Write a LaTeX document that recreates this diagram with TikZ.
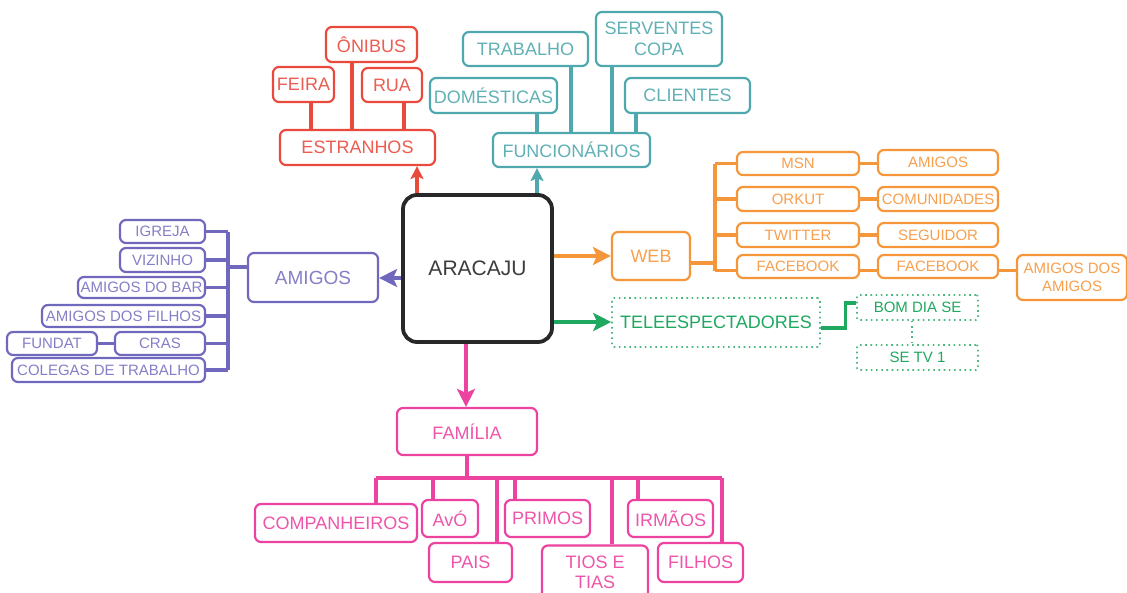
\documentclass[tikz,border=0pt]{standalone}
\usepackage{fontspec}
\setmainfont{Liberation Sans}
\usetikzlibrary{arrows.meta}

\definecolor{estrcol}{RGB}{234,74,60}
\definecolor{funccol}{RGB}{78,168,174}
\definecolor{amigcol}{RGB}{112,104,188}
\definecolor{webcol}{RGB}{246,150,58}
\definecolor{telecol}{RGB}{30,168,96}
\definecolor{famcol}{RGB}{236,66,160}
\definecolor{centcol}{RGB}{40,40,40}

\tikzset{
  box/.style={draw, fill=white, rounded corners=6, line width=2.2, inner sep=0, align=center},
  big/.style={font=\fontsize{18}{21}\selectfont},
  small/.style={font=\fontsize{15}{18}\selectfont},
  estrbox/.style={box, big, draw=estrcol, text=estrcol!90},
  funcbox/.style={box, big, draw=funccol, text=funccol!90},
  amigbox/.style={box, small, draw=amigcol, text=amigcol!85},
  webbox/.style={box, small, draw=webcol, text=webcol!90},
  telebox/.style={box, draw=telecol!80, text=telecol, line width=1.6, dash pattern=on 1.6pt off 3.6pt, rounded corners=2},
  fambox/.style={box, big, draw=famcol, text=famcol!90},
  link/.style={line width=3.2},
  arr/.style={line width=3.4, -{Stealth[length=18, width=18, inset=4]}},
  sarr/.style={line width=3.2, -{Stealth[length=13, width=13, inset=3]}}
}

\begin{document}
\begin{tikzpicture}[x=1pt,y=-1pt]
		%%%%% START %%%%%
		\useasboundingbox (0,0) rectangle (1127,592);
		
		% centre
		\node[box, draw=centcol, text=centcol!90, line width=3.8, rounded corners=14, minimum width=149, minimum height=147, font=\fontsize{21}{24}\selectfont] (arac) at (477.5,268.5) {ARACAJU};
		
		% estranhos
		\node[estrbox, minimum width=155, minimum height=35] (estr) at (357.5,147.5) {ESTRANHOS};
		\node[estrbox, minimum width=91, minimum height=35] (onibus) at (371.5,44.5) {ÔNIBUS};
		\node[estrbox, minimum width=61, minimum height=35] (feira) at (303.5,84.5) {FEIRA};
		\node[estrbox, minimum width=60, minimum height=34] (rua) at (392,85) {RUA};
		\draw[link, estrcol] ([xshift=7.5]feira.south) -- ([xshift=7.5]feira.south |- estr.north);
		\draw[link, estrcol] ([xshift=-19.5]onibus.south) -- ([xshift=-19.5]onibus.south |- estr.north);
		\draw[link, estrcol] ([xshift=12]rua.south) -- ([xshift=12]rua.south |- estr.north);
		\draw[sarr, estrcol] ([xshift=-60.5]arac.north) -- ([xshift=-60.5]arac.north |- estr.south);
		
		% funcionarios
		\node[funcbox, minimum width=157, minimum height=34] (func) at (571.5,150) {FUNCIONÁRIOS};
		\node[funcbox, minimum width=125, minimum height=34] (trab) at (525.5,49) {TRABALHO};
		\node[funcbox, minimum width=126, minimum height=54] (serv) at (659,39) {SERVENTES\\COPA};
		\node[funcbox, minimum width=127, minimum height=35] (dom) at (493.5,95.5) {DOMÉSTICAS};
		\node[funcbox, minimum width=125, minimum height=35] (cli) at (687.5,95.5) {CLIENTES};
		\draw[link, funccol] ([xshift=43.5]dom.south) -- ([xshift=43.5]dom.south |- func.north);
		\draw[link, funccol] ([xshift=45.5]trab.south) -- ([xshift=45.5]trab.south |- func.north);
		\draw[link, funccol] ([xshift=-47]serv.south) -- ([xshift=-47]serv.south |- func.north);
		\draw[link, funccol] ([xshift=-51.5]cli.south) -- ([xshift=-51.5]cli.south |- func.north);
		\draw[sarr, funccol] ([xshift=59.5]arac.north) -- ([xshift=59.5]arac.north |- func.south);
		
		% amigos
		\node[amigbox, minimum width=130, minimum height=49, font=\fontsize{19}{22}\selectfont] (amg) at (313,277.5) {AMIGOS};
		\node[amigbox, minimum width=85, minimum height=23] (igreja) at (162.5,231.5) {IGREJA};
		\node[amigbox, minimum width=85, minimum height=24] (viz) at (162.5,260) {VIZINHO};
		\node[amigbox, minimum width=127, minimum height=21] (bar) at (141.5,287.5) {AMIGOS DO BAR};
		\node[amigbox, minimum width=163, minimum height=22] (dfilhos) at (123.5,316) {AMIGOS DOS FILHOS};
		\node[amigbox, minimum width=90, minimum height=23] (cras) at (160,343.5) {CRAS};
		\node[amigbox, minimum width=90, minimum height=23] (fundat) at (52,343.5) {FUNDAT};
		\node[amigbox, minimum width=193, minimum height=24] (coleg) at (108.5,370) {COLEGAS DE TRABALHO};
		\coordinate (abus) at (228,267);
		\draw[link, amigcol] (igreja.east -| abus) -- (coleg.east -| abus);
		\draw[link, amigcol] ([yshift=10.5]amg.west) -- (abus);
		\draw[link, amigcol] (igreja.east) -- (igreja.east -| abus);
		\draw[link, amigcol] (viz.east) -- (viz.east -| abus);
		\draw[link, amigcol] (bar.east) -- (bar.east -| abus);
		\draw[link, amigcol] (dfilhos.east) -- (dfilhos.east -| abus);
		\draw[link, amigcol] (cras.east) -- (cras.east -| abus);
		\draw[link, amigcol] (coleg.east) -- (coleg.east -| abus);
		\draw[link, amigcol] (fundat.east) -- (cras.west);
		\draw[arr, amigcol] ([yshift=-9.5]arac.west) -- ([yshift=-9.5]arac.west -| amg.east);
		
		% web
		\node[webbox, minimum width=78, minimum height=48, big] (web) at (651,256) {WEB};
		\node[webbox, minimum width=122, minimum height=23] (msn) at (798,163.5) {MSN};
		\node[webbox, minimum width=122, minimum height=24] (orkut) at (798,199) {ORKUT};
		\node[webbox, minimum width=122, minimum height=24] (twit) at (798,235) {TWITTER};
		\node[webbox, minimum width=122, minimum height=23] (fb) at (798,266.5) {FACEBOOK};
		\node[webbox, minimum width=120, minimum height=25] (wamg) at (938,162.5) {AMIGOS};
		\node[webbox, minimum width=120, minimum height=24] (comun) at (938,199) {COMUNIDADES};
		\node[webbox, minimum width=120, minimum height=24] (seg) at (938,235) {SEGUIDOR};
		\node[webbox, minimum width=120, minimum height=23] (fbb) at (938,266.5) {FACEBOOK};
		\node[webbox, minimum width=110, minimum height=45] (ada) at (1072,277.5) {AMIGOS DOS\\AMIGOS};
		\coordinate (wbus) at (715,263);
		\draw[link, webcol] (msn.west -| wbus) -- ([yshift=-4]fb.west -| wbus);
		\draw[link, webcol] ([yshift=-7]web.east) -- (wbus);
		\draw[link, webcol] (msn.west -| wbus) -- (msn.west);
		\draw[link, webcol] (orkut.west -| wbus) -- (orkut.west);
		\draw[link, webcol] (twit.west -| wbus) -- (twit.west);
		\draw[link, webcol] ([yshift=-4]fb.west -| wbus) -- ([yshift=-4]fb.west);
		\draw[link, webcol] (msn.east) -- (wamg.west |- msn.east);
		\draw[link, webcol] (orkut.east) -- (comun.west);
		\draw[link, webcol] (twit.east) -- (seg.west);
		\draw[link, webcol] ([yshift=-4]fb.east) -- ([yshift=-4]fbb.west);
		\draw[link, webcol] ([yshift=-4]fbb.east) -- ([yshift=-4]fbb.east -| ada.west);
		\draw[arr, webcol] ([yshift=12.5]arac.east) -- ([yshift=12.5]arac.east -| web.west);
		
		% teleespectadores
		\node[telebox, minimum width=208, minimum height=49, font=\fontsize{18}{21}\selectfont] (tele) at (716,322.5) {TELEESPECTADORES};
		\node[telebox, minimum width=121, minimum height=25, font=\fontsize{15}{18}\selectfont] (bom) at (917.5,307.5) {BOM DIA SE};
		\node[telebox, minimum width=121, minimum height=25, font=\fontsize{15}{18}\selectfont] (setv) at (917.5,357.5) {SE TV 1};
		\draw[link, telecol] ([yshift=-5.5]tele.east) -- ++(25,0) |- ([yshift=4.5]bom.west);
		\draw[telecol!80, line width=1.6, dash pattern=on 1.6pt off 3.6pt] ([xshift=-5.5]bom.south) -- ([xshift=-5.5]setv.north);
		\draw[arr, telecol] ([yshift=-53.5]arac.east) -- ([yshift=-53.5]arac.east -| tele.west);
		
		% familia
		\node[fambox, minimum width=140, minimum height=47] (fam) at (467,431.5) {FAMÍLIA};
		\node[fambox, minimum width=162, minimum height=38] (comp) at (336,523) {COMPANHEIROS};
		\node[fambox, minimum width=56, minimum height=37] (avo) at (450,518.5) {AvÓ};
		\node[fambox, minimum width=83, minimum height=39] (pais) at (470.5,562.5) {PAIS};
		\node[fambox, minimum width=85, minimum height=37] (primos) at (547.5,518.5) {PRIMOS};
		\node[fambox, minimum width=106, minimum height=54, font=\fontsize{18}{20.5}\selectfont] (tios) at (595,572.5) {TIOS E\\TIAS};
		\node[fambox, minimum width=85, minimum height=37] (irmaos) at (670.5,518.5) {IRMÃOS};
		\node[fambox, minimum width=85, minimum height=39] (filhos) at (700.5,562.5) {FILHOS};
		\coordinate (fbus) at (467,478);
		\draw[link, famcol] (fam.south) -- (fbus);
		\draw[link, famcol] ([xshift=40]comp.north |- fbus) -- ([xshift=21.5]filhos.north |- fbus);
		\draw[link, famcol] ([xshift=40]comp.north) -- ([xshift=40]comp.north |- fbus);
		\draw[link, famcol] ([xshift=-17]avo.north) -- ([xshift=-17]avo.north |- fbus);
		\draw[link, famcol] ([xshift=26.5]pais.north) -- ([xshift=26.5]pais.north |- fbus);
		\draw[link, famcol] ([xshift=-32.5]primos.north) -- ([xshift=-32.5]primos.north |- fbus);
		\draw[link, famcol] ([xshift=17]tios.north) -- ([xshift=17]tios.north |- fbus);
		\draw[link, famcol] ([xshift=-32.5]irmaos.north) -- ([xshift=-32.5]irmaos.north |- fbus);
		\draw[link, famcol] ([xshift=21.5]filhos.north) -- ([xshift=21.5]filhos.north |- fbus);
		\draw[arr, famcol, line width=3.8] ([xshift=-11.5]arac.south) -- ([xshift=-11.5]arac.south |- fam.north);
		%%%%% END %%%%%
	\end{tikzpicture}
\end{document}
